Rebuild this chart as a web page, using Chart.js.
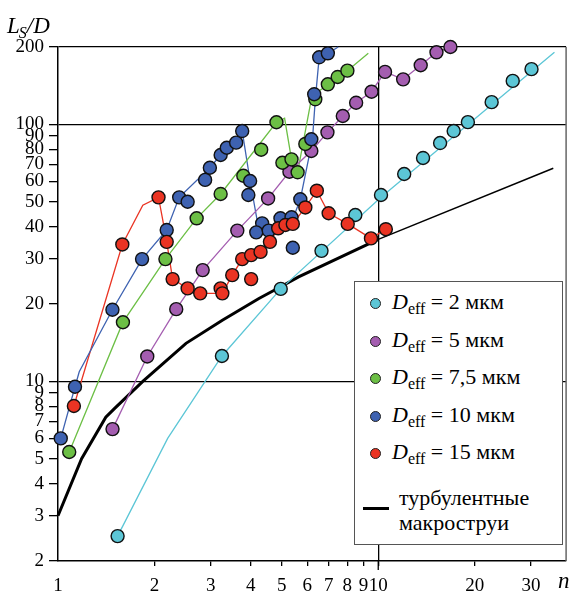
<!DOCTYPE html>
<html lang="ru">
<head>
<meta charset="UTF-8">
<title>L_S/D от n</title>
<script src="https://cdn.jsdelivr.net/npm/chart.js"></script>
<style>
  body { margin: 0; background: #fff; }
  #wrap { position: relative; width: 574px; height: 592px; color: #000;
          font-family: 'Liberation Serif', 'Times New Roman', Times, 'DejaVu Serif', serif; }
  #chart { position: absolute; left: 0; top: 0; }
  #yTitle { position: absolute; left: 7px; top: 13px; font-size: 23px; font-style: italic; white-space: nowrap; }
  #yTitle sub { font-size: 16px; vertical-align: -5px; margin-left: -1px; }
  #xTitle { position: absolute; left: 558px; top: 568px; font-size: 23px; font-style: italic; }
  #legend { position: absolute; left: 354px; top: 281px; width: 207px; height: 262px;
            border: 1px solid #555; background: #fff; }
  .row { position: absolute; left: 0; height: 0; }
  .dot { position: absolute; left: 15px; top: -5px; width: 9px; height: 9px; border: 1px solid #222; border-radius: 50%; }
  .lab { position: absolute; left: 37px; top: -14px; white-space: nowrap; font-size: 22px; line-height: 26px; }
  .lab sub { font-size: 16px; vertical-align: -5px; }
  #lgLine { position: absolute; left: 8px; top: 225px; width: 26px; height: 3px; background: #000; }
  #lgText { position: absolute; left: 44px; top: 203px; font-size: 22px; line-height: 25px; white-space: nowrap; }
</style>
</head>
<body>
<div id="wrap">
  <canvas id="chart" width="574" height="592"></canvas>
  <div id="yTitle">L<sub>S</sub>/D</div>
  <div id="xTitle">n</div>
  <div id="legend"></div>
</div>
<script>
const serif = "'Liberation Serif', 'Times New Roman', Times, 'DejaVu Serif', serif";

// оси
const xTicks = [1, 2, 3, 4, 5, 6, 7, 8, 9, 10, 20, 30];
const yTicks = [2, 3, 4, 5, 6, 7, 8, 9, 10, 20, 30, 40, 50, 60, 70, 80, 90, 100, 200];

// D_eff, мкм
const legendSizes = ['2', '5', '7,5', '10', '15'];
const seriesColors = ['#5cc6d6', '#a45db0', '#6cbf45', '#3e62b1', '#ea3423'];

// D_eff = 2 мкм
const cyanX = [1.535, 3.25, 4.96, 6.65, 8.48, 10.2, 12.05, 13.8, 15.6, 17.2, 19.05, 22.6, 26.3, 30.1];
const cyanY = [2.5, 12.55, 22.9, 32.2, 44.4, 53.1, 64.1, 74.0, 84.6, 94.2, 102, 122, 147.6, 164];
const cyanLineX = [1.535, 2.2, 3.25, 4.96, 10.2, 35.5];
const cyanLineY = [2.5, 6.0, 12.55, 22.9, 52, 191];

// D_eff = 5 мкм
const purpleX = [1.48, 1.90, 2.34, 2.83, 3.63, 4.53, 5.28, 6.18, 6.94, 7.75, 8.53, 9.53, 10.5, 11.96, 13.57, 15.2, 16.8];
const purpleY = [6.52, 12.5, 19.1, 27.1, 38.6, 51.5, 65.4, 78.8, 93.1, 107.8, 121.4, 134, 160, 149.7, 169.8, 190.7, 200];

// D_eff = 7,5 мкм
const greenX = [1.084, 1.595, 2.165, 2.71, 3.22, 3.79, 4.31, 4.81, 5.02, 5.36, 5.60, 5.92, 6.36, 6.96, 7.47, 8.01];
const greenY = [5.31, 16.98, 29.9, 43.1, 53.6, 63.1, 79.7, 101.9, 70.9, 73.1, 65.1, 83.9, 125.2, 143.2, 152.9, 161.8];
const greenLineX = [1.084, 1.595, 2.165, 2.71, 3.22, 4.81, 5.1, 5.36, 5.60, 6.2, 6.96, 7.47, 8.01, 9.31];
const greenLineY = [5.31, 17, 29.9, 43.1, 53.6, 101.9, 105.6, 73.1, 65.1, 128, 143.2, 152.9, 161.8, 189];

// D_eff = 10 мкм
const blueX = [1.02, 1.13, 1.479, 1.83, 2.185, 2.39, 2.54, 2.88, 2.98, 3.22, 3.365, 3.60, 3.76, 3.98, 3.93, 4.34, 4.16, 4.55, 4.95, 5.36, 5.41, 5.71, 6.18, 6.31, 6.54, 6.96];
const blueY = [6.0, 9.53, 19.0, 29.9, 38.8, 52.0, 50.0, 60.8, 67.8, 76.0, 81.1, 84.9, 94.2, 60.2, 53.1, 41.2, 38.0, 38.6, 43.1, 43.5, 33.1, 51.1, 87.5, 131, 182.4, 189];
const blueLineX = [1.02, 1.13, 1.165, 1.479, 1.83, 2.185, 2.39, 2.98, 3.22, 3.365, 3.60, 3.76, 3.98, 4.22, 4.6, 5.36, 5.71, 6.23, 6.36, 6.54, 6.96, 7.5];
const blueLineY = [6.0, 9.53, 10.9, 19.0, 29.9, 38.8, 52, 67.8, 76, 81.1, 84.9, 94.2, 60.2, 40, 38.5, 41.5, 51.1, 87, 125, 182.4, 189, 200];

// D_eff = 15 мкм
const redX = [1.121, 1.588, 2.06, 2.185, 2.28, 2.54, 2.78, 3.22, 3.26, 3.50, 3.76, 4.01, 4.01, 4.29, 4.59, 4.87, 5.13, 5.41, 5.92, 6.43, 7.0, 8.03, 9.49, 10.56];
const redY = [8.02, 34.1, 52, 34.9, 25.0, 23.0, 22.0, 23.0, 22.0, 25.9, 29.9, 31.0, 25.0, 31.9, 34.9, 39.4, 40.6, 41.0, 47.5, 55.2, 45.1, 41.0, 36.0, 39.1];
const redLineX = [1.121, 1.588, 1.84, 2.06, 2.12, 2.185, 2.28, 2.54, 2.78, 3.26, 3.50, 3.76, 4.01, 4.29, 4.59, 4.87, 5.13, 5.41, 5.92, 6.43, 7.0, 8.03, 9.49, 10.56];
const redLineY = [8.02, 34.1, 48.5, 52, 43, 34.9, 25, 23, 22, 22, 25.9, 29.9, 31, 31.9, 34.9, 39.4, 40.6, 41, 47.5, 55.2, 45.1, 41, 36, 39.1];

// турбулентные макроструи
const jetX = [1, 1.185, 1.41, 1.503, 1.84, 2.51, 3.26, 4.24, 5.01, 5.64, 10];
const jetY = [3, 5, 7.25, 7.85, 10, 14.06, 17.3, 21, 23.5, 25.5, 35.7];
const jetTailX = [10, 35.2];
const jetTailY = [35.7, 67.5];

function pts(xs, ys) {
    return xs.map((x, i) => ({ x: x, y: ys[i] }));
}

function markers(xs, ys, color) {
    return {
        data: pts(xs, ys), showLine: false, order: 0, clip: false,
        pointRadius: 6.5, pointBackgroundColor: color,
        pointBorderColor: '#111', pointBorderWidth: 1.4
    };
}

function curve(xs, ys, color, width) {
    return {
        data: pts(xs, ys), showLine: true, order: 1, clip: false,
        pointRadius: 0, borderColor: color, borderWidth: width, tension: 0
    };
}

const c = seriesColors;
const datasets = [
    markers(redX, redY, c[4]),
    markers(blueX, blueY, c[3]),
    markers(greenX, greenY, c[2]),
    markers(purpleX, purpleY, c[1]),
    markers(cyanX, cyanY, c[0]),
    curve(cyanLineX, cyanLineY, c[0], 1.3),
    curve(purpleX, purpleY, c[1], 1.3),
    curve(greenLineX, greenLineY, c[2], 1.3),
    curve(blueLineX, blueLineY, c[3], 1.3),
    curve(redLineX, redLineY, c[4], 1.3),
    curve(jetX, jetY, '#000', 3),
    curve(jetTailX, jetTailY, '#000', 1.5)
];

const clear = 'rgba(0,0,0,0)';

// рамка справа и продление линии n = 10 вниз
const framePlugin = {
    id: 'frame',
    afterDraw(chart) {
        const ctx = chart.ctx;
        const a = chart.chartArea;
        const x10 = chart.scales.x.getPixelForValue(10);
        ctx.save();
        ctx.strokeStyle = '#666';
        ctx.lineWidth = 1.5;
        ctx.beginPath();
        ctx.moveTo(a.right, a.top);
        ctx.lineTo(a.right, a.bottom);
        ctx.stroke();
        ctx.strokeStyle = '#000';
        ctx.lineWidth = 1.3;
        ctx.beginPath();
        ctx.moveTo(x10, a.bottom);
        ctx.lineTo(x10, a.bottom + 9);
        ctx.stroke();
        ctx.restore();
    }
};

new Chart(document.getElementById('chart'), {
    type: 'scatter',
    data: { datasets: datasets },
    options: {
        responsive: false,
        animation: false,
        layout: { padding: { top: 47, right: 4, left: 0, bottom: 0 } },
        plugins: { legend: { display: false }, tooltip: { enabled: false } },
        scales: {
            x: {
                type: 'logarithmic', min: 1, max: 38.6,
                afterBuildTicks: s => { s.ticks = xTicks.map(v => ({ value: v })); },
                afterFit: s => { s.height = 31; },
                border: { color: '#000', width: 1.5 },
                grid: {
                    color: ctx => ctx.tick && ctx.tick.value === 10 ? '#000' : clear,
                    tickColor: ctx => ctx.tick && ctx.tick.value === 1 ? clear : '#000',
                    lineWidth: 1.3, tickLength: 5
                },
                ticks: {
                    autoSkip: false, maxRotation: 0, padding: 9, color: '#000',
                    font: { family: serif, size: 19 },
                    callback: v => String(v)
                }
            },
            y: {
                type: 'logarithmic', min: 2, max: 200,
                afterBuildTicks: s => { s.ticks = yTicks.map(v => ({ value: v })); },
                afterFit: s => { s.width = 58; },
                border: { color: '#000', width: 1.5 },
                grid: {
                    color: ctx => ctx.tick && [10, 100, 200].includes(ctx.tick.value) ? '#000' : clear,
                    tickColor: '#000', lineWidth: 1.3, tickLength: 9
                },
                ticks: {
                    autoSkip: false, padding: 5, color: '#000',
                    font: { family: serif, size: 19 },
                    callback: v => String(v)
                }
            }
        }
    },
    plugins: [framePlugin]
});

// легенда
let html = '';
legendSizes.forEach((s, i) => {
    html += `<div class="row" style="top:${21 + i * 37.5}px">` +
        `<span class="dot" style="background:${seriesColors[i]}"></span>` +
        `<span class="lab"><i>D</i><sub>eff</sub> = ${s} мкм</span></div>`;
});
html += '<div id="lgLine"></div><div id="lgText">турбулентные<br>макроструи</div>';
document.getElementById('legend').innerHTML = html;
</script>
</body>
</html>
